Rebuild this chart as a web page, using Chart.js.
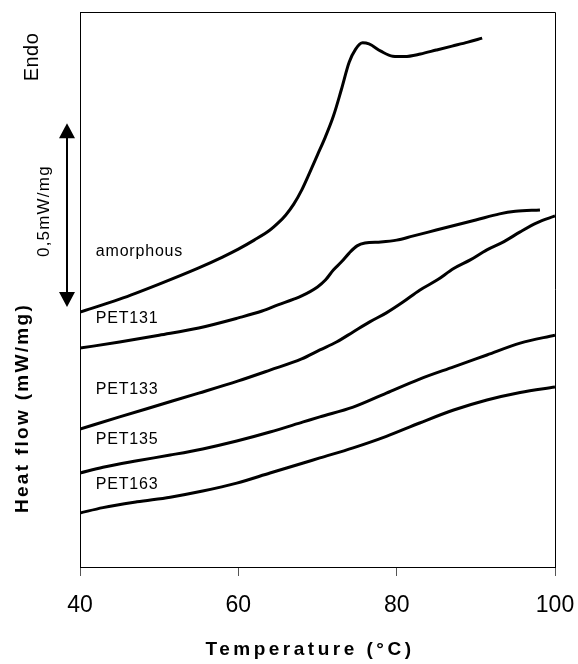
<!DOCTYPE html>
<html><head><meta charset="utf-8">
<script src="https://cdn.jsdelivr.net/npm/chart.js@4.4.0/dist/chart.umd.min.js"></script>
<style>html,body{margin:0;padding:0;background:#fff;overflow:hidden}canvas{display:block}</style>
</head><body>
<canvas id="c" width="578" height="664"></canvas>
<script>
// ---- data (temperature in °C, heat flow in mW/mg, curves offset for clarity) ----
const xTicks = [40, 60, 80, 100];

const amorphousT  = [40,45,50,55,58,60,62,64,65,66,67,68,69,70,71,72,73,74,74.8,75.7,76.5,78,79.5,81,83,85,87,89,90.8];
const amorphousHF = [0.708,0.744,0.786,0.831,0.861,0.883,0.908,0.936,0.955,0.978,1.008,1.047,1.095,1.145,1.195,1.252,1.325,1.402,1.438,1.456,1.453,1.433,1.419,1.418,1.425,1.436,1.447,1.458,1.469];

const pet131T  = [40,45,50,55,60,63,65,67,68,70,71,72,73,74,75,76,78,80,82,85,88,90,93,95,98.1];
const pet131HF = [0.608,0.625,0.644,0.664,0.692,0.711,0.728,0.744,0.753,0.778,0.797,0.825,0.847,0.872,0.892,0.900,0.903,0.908,0.919,0.936,0.953,0.964,0.981,0.988,0.992];

const pet133T  = [40,45,50,55,60,64,68,70.3,72.4,74.5,76.6,78.7,80.8,82.9,85.1,87.2,89.3,91.4,93.5,95.6,97.7,100];
const pet133HF = [0.383,0.417,0.450,0.483,0.517,0.547,0.578,0.603,0.625,0.653,0.681,0.706,0.736,0.769,0.797,0.829,0.853,0.881,0.903,0.931,0.956,0.975];

const pet135T  = [40,42.9,47.2,51.4,55.5,59.8,64,68.2,70.3,74.5,78.7,82.9,87.2,91.4,95.6,100];
const pet135HF = [0.261,0.277,0.295,0.311,0.328,0.350,0.375,0.403,0.417,0.444,0.483,0.522,0.556,0.589,0.622,0.644];

const pet163T  = [40,42.9,47.2,51.4,55.5,59.8,64,68.2,70.3,74.5,78.7,82.9,87.2,91.4,95.6,100];
const pet163HF = [0.150,0.165,0.181,0.194,0.211,0.233,0.261,0.289,0.303,0.331,0.363,0.400,0.436,0.464,0.485,0.500];

const seriesNames = ['amorphous', 'PET131', 'PET133', 'PET135', 'PET163'];
const seriesT  = [amorphousT, pet131T, pet133T, pet135T, pet163T];
const seriesHF = [amorphousHF, pet131HF, pet133HF, pet135HF, pet163HF];

// annotation anchors (data units)
const curveLabelT  = 42;
const curveLabelHF = [0.875, 0.689, 0.492, 0.353, 0.228];
const scaleBarHF   = [0.722, 1.233];   // the "0,5mW/mg" arrow

const FONT = '"Liberation Sans", Arial, Helvetica, sans-serif';

const datasets = seriesNames.map((n, i) => ({
  label: n,
  data: seriesT[i].map((t, j) => ({x: t, y: seriesHF[i][j]})),
  borderColor: '#000',
  borderWidth: 3,
  pointRadius: 0,
  cubicInterpolationMode: 'monotone',
  fill: false
}));

function rotText(ctx, txt, cx, cy, font, spacing) {
  ctx.save();
  ctx.translate(cx, cy);
  ctx.rotate(-Math.PI / 2);
  ctx.font = font;
  ctx.letterSpacing = spacing + 'px';
  ctx.textAlign = 'center';
  ctx.textBaseline = 'middle';
  ctx.fillText(txt, 0, 0);
  ctx.restore();
}

const deco = {
  id: 'deco',
  afterDraw(chart) {
    const {ctx, chartArea: a, scales: {x, y}} = chart;
    ctx.save();
    // frame top + right
    ctx.strokeStyle = '#000';
    ctx.lineWidth = 1;
    ctx.beginPath();
    ctx.moveTo(a.left, a.top + 0.5);
    ctx.lineTo(a.right + 0.5, a.top + 0.5);
    ctx.lineTo(a.right + 0.5, a.bottom);
    ctx.stroke();

    // curve labels
    ctx.fillStyle = '#000';
    ctx.font = '16px ' + FONT;
    ctx.letterSpacing = '0.8px';
    ctx.textAlign = 'left';
    ctx.textBaseline = 'middle';
    seriesNames.forEach((n, i) => {
      ctx.fillText(n, x.getPixelForValue(curveLabelT), y.getPixelForValue(curveLabelHF[i]));
    });
    ctx.letterSpacing = '0px';

    // double arrow
    const ax = a.left - 13;
    const yb = y.getPixelForValue(scaleBarHF[0]);
    const yt = y.getPixelForValue(scaleBarHF[1]);
    const hw = 8, hh = 15;
    ctx.lineWidth = 2;
    ctx.beginPath();
    ctx.moveTo(ax, yt + hh - 1);
    ctx.lineTo(ax, yb - hh + 1);
    ctx.stroke();
    ctx.beginPath();
    ctx.moveTo(ax, yt); ctx.lineTo(ax - hw, yt + hh); ctx.lineTo(ax + hw, yt + hh); ctx.closePath();
    ctx.fill();
    ctx.beginPath();
    ctx.moveTo(ax, yb); ctx.lineTo(ax - hw, yb - hh); ctx.lineTo(ax + hw, yb - hh); ctx.closePath();
    ctx.fill();

    // rotated texts
    rotText(ctx, 'Endo', 32, 57, '20px ' + FONT, 0.5);
    rotText(ctx, '0,5mW/mg', 44, (yb + yt) / 2 - 4, '17px ' + FONT, 1.2);
    rotText(ctx, 'Heat flow (mW/mg)', 23, 408, 'bold 19px ' + FONT, 2.3);

    // x title
    ctx.font = 'bold 19px ' + FONT;
    ctx.letterSpacing = '3.5px';
    ctx.textAlign = 'center';
    ctx.textBaseline = 'middle';
    ctx.fillText('Temperature (°C)', 310, 650);
    ctx.restore();
  }
};

new Chart(document.getElementById('c'), {
  type: 'line',
  data: {datasets},
  options: {
    responsive: false,
    animation: false,
    events: [],
    layout: {padding: {top: 12, right: 23, left: 0, bottom: 0}},
    plugins: {legend: {display: false}, tooltip: {enabled: false}},
    scales: {
      x: {
        type: 'linear',
        min: 40, max: 100,
        afterBuildTicks: s => { s.ticks = xTicks.map(v => ({value: v})); },
        afterFit: s => { s.height = 97; s.paddingLeft = 0; s.paddingRight = 0; },
        grid: {drawOnChartArea: false, drawTicks: true, tickLength: 9, tickColor: '#555', lineWidth: 1},
        border: {display: true, color: '#000', width: 1},
        ticks: {color: '#000', padding: 16, font: {family: FONT, size: 23}, maxRotation: 0}
      },
      y: {
        type: 'linear',
        min: 0, max: 1.5417,
        afterFit: s => { s.width = 80; },
        grid: {display: true, drawOnChartArea: false, drawTicks: false},
        border: {display: true, color: '#000', width: 1},
        ticks: {display: false}
      }
    }
  },
  plugins: [deco]
});
</script>
</body></html>
